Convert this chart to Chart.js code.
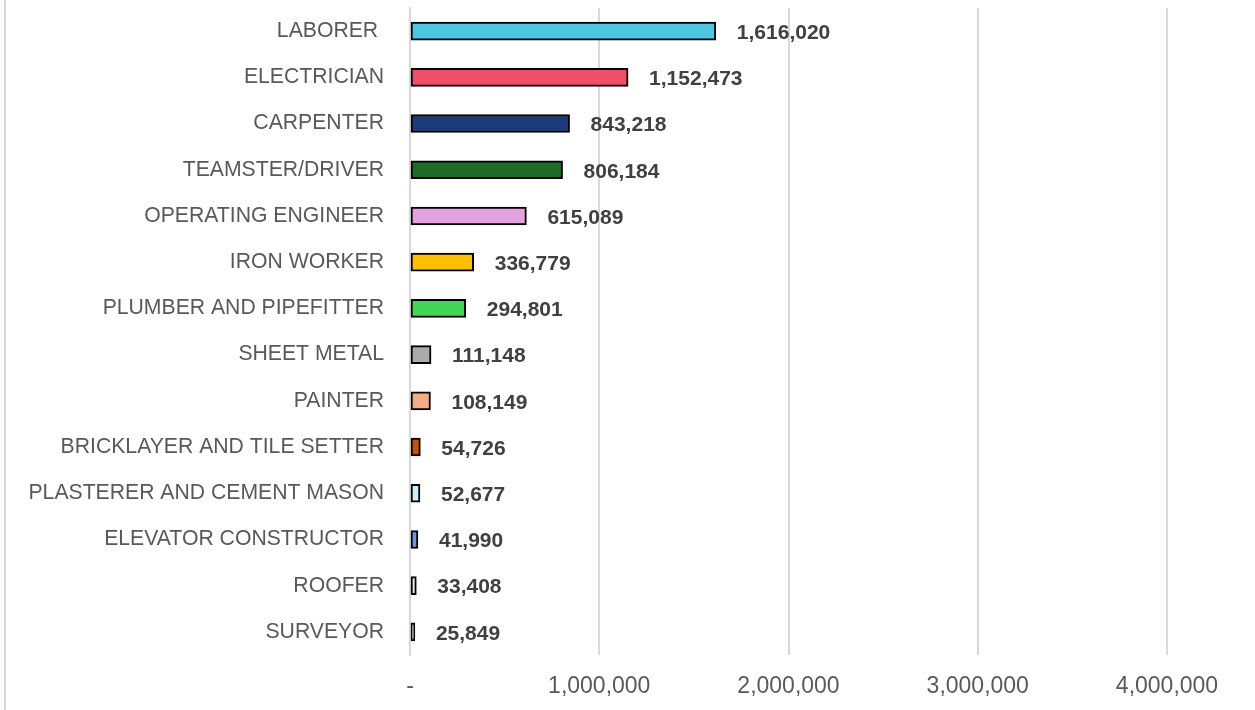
<!DOCTYPE html>
<html>
<head>
<meta charset="utf-8">
<script src="https://cdn.jsdelivr.net/npm/chart.js@4"></script>
<style>
  html, body { margin: 0; padding: 0; background: #fff; }
  #wrap { position: relative; width: 1255px; height: 710px; }
  #frame { position: absolute; left: 4px; top: 0; width: 2px; height: 710px; background: #d9d9d9; }
  canvas { position: absolute; left: 0; top: 0; }
</style>
</head>
<body>
<div id="wrap">
  <canvas id="chart" width="1255" height="710"></canvas>
  <div id="frame"></div>
</div>
<script>
// Trades and worker counts
const trades = [
  "LABORER ", "ELECTRICIAN", "CARPENTER", "TEAMSTER/DRIVER", "OPERATING ENGINEER",
  "IRON WORKER", "PLUMBER AND PIPEFITTER", "SHEET METAL", "PAINTER",
  "BRICKLAYER AND TILE SETTER", "PLASTERER AND CEMENT MASON",
  "ELEVATOR CONSTRUCTOR", "ROOFER", "SURVEYOR"
];
const workers = [
  1616020, 1152473, 843218, 806184, 615089, 336779, 294801,
  111148, 108149, 54726, 52677, 41990, 33408, 25849
];
const barColors = [
  "#4fc6df", "#ef5068", "#1b3a7a", "#1e6b28", "#e3a1de", "#ffc000", "#45d45a",
  "#ababab", "#f4ac86", "#c4510f", "#cdeefa", "#6f96dc", "#ececec", "#d8f0cf"
];
const xTicks = [0, 1000000, 2000000, 3000000, 4000000];

const fmt = (v) => v.toLocaleString("en-US");

// Value labels to the right of each bar
const valueLabels = {
  id: "valueLabels",
  afterDatasetsDraw(chart) {
    const ctx = chart.ctx;
    const meta = chart.getDatasetMeta(0);
    ctx.save();
    ctx.font = "bold 21px 'Liberation Sans', Arial, sans-serif";
    ctx.fillStyle = "#404040";
    ctx.textAlign = "left";
    ctx.textBaseline = "middle";
    meta.data.forEach((bar, i) => {
      ctx.fillText(fmt(workers[i]), bar.x + 21, bar.y + 2);
    });
    ctx.restore();
  },
};

const ctx = document.getElementById("chart").getContext("2d");
new Chart(ctx, {
  type: "bar",
  data: {
    labels: trades,
    datasets: [
      {
        data: workers,
        backgroundColor: barColors,
        borderColor: "#000000",
        borderWidth: 2,
        borderSkipped: false,
        barThickness: 18,
      },
    ],
  },
  options: {
    indexAxis: "y",
    responsive: false,
    animation: false,
    layout: { padding: { top: 8, right: 88, bottom: 0, left: 0 } },
    plugins: {
      legend: { display: false },
      tooltip: { enabled: false },
    },
    scales: {
      x: {
        min: 0,
        max: 4000000,
        afterBuildTicks: (scale) => {
          scale.ticks = xTicks.map((v) => ({ value: v }));
        },
        afterFit: (scale) => {
          scale.height = 55;
          scale.paddingLeft = 0;
          scale.paddingRight = 0;
        },
        grid: { color: "#d9d9d9", lineWidth: 2, drawTicks: false },
        border: { display: false },
        ticks: {
          padding: 18,
          color: "#595959",
          font: { family: "'Liberation Sans', Arial, sans-serif", size: 23 },
          maxRotation: 0,
          callback: (v) => (v === 0 ? "-" : fmt(v)),
        },
      },
      y: {
        afterFit: (scale) => {
          scale.width = 410;
          scale.paddingTop = 0;
          scale.paddingBottom = 0;
        },
        grid: { display: false, drawTicks: false },
        border: { display: true, color: "#d9d9d9", width: 2 },
        ticks: {
          padding: 26,
          color: "#595959",
          font: { family: "'Liberation Sans', Arial, sans-serif", size: 21.2 },
        },
      },
    },
  },
  plugins: [valueLabels],
});
</script>
</body>
</html>
